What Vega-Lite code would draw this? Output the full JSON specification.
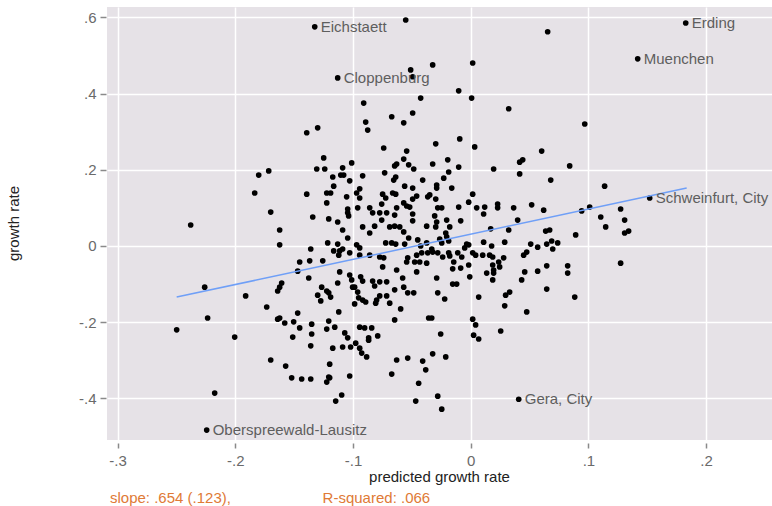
{
  "$schema": "https://vega.github.io/schema/vega-lite/v6.json",
  "width": 665,
  "height": 433,
  "autosize": {"type": "none"},
  "padding": {"left": 107, "top": 7, "right": 0, "bottom": 66},
  "background": "white",
  "config": {
    "view": {"fill": "#e6e2e7", "stroke": null},
    "font": "Liberation Sans",
    "axis": {
      "grid": true, "gridColor": "white", "gridWidth": 1.5,
      "domain": false, "tickColor": "#8a8a8a", "tickWidth": 1.5,
      "labelFont": "Liberation Sans", "labelFontSize": 15, "labelColor": "#6a6a6a",
      "titleFont": "Liberation Sans", "titleFontSize": 15, "titleFontWeight": "normal", "titleColor": "#222222"
    }
  },
  "title": {
    "text": "slope: .654 (.123),\u00a0\u00a0\u00a0\u00a0\u00a0\u00a0\u00a0\u00a0\u00a0\u00a0\u00a0\u00a0\u00a0\u00a0\u00a0\u00a0\u00a0\u00a0\u00a0\u00a0\u00a0\u00a0R-squared: .066",
    "orient": "bottom", "anchor": "start", "frame": "group", "dx": 3, "offset": 7,
    "font": "Liberation Sans", "fontSize": 15, "fontWeight": "normal", "color": "#e07a36"
  },
  "datasets": {
    "pts": [
      {"p":-0.1325,"g":0.575,"n":"Eichstaett"},{"p":-0.0552,"g":0.593,"n":""},{"p":0.0654,"g":0.562,"n":""},{"p":-0.051,"g":0.462,"n":""},{"p":-0.0323,"g":0.475,"n":""},{"p":0.0017,"g":0.48,"n":""},{"p":-0.0493,"g":0.444,"n":""},{"p":-0.113,"g":0.441,"n":"Cloppenburg"},{"p":-0.0102,"g":0.407,"n":""},{"p":0.0008,"g":0.388,"n":""},{"p":-0.0425,"g":0.388,"n":""},{"p":-0.0909,"g":0.375,"n":""},{"p":0.0323,"g":0.36,"n":""},{"p":-0.0493,"g":0.349,"n":""},{"p":-0.0671,"g":0.339,"n":""},
      {"p":-0.0569,"g":0.323,"n":""},{"p":-0.0892,"g":0.325,"n":""},{"p":-0.0875,"g":0.304,"n":""},{"p":-0.13,"g":0.31,"n":""},{"p":-0.1393,"g":0.297,"n":""},{"p":-0.0739,"g":0.257,"n":""},{"p":-0.0544,"g":0.249,"n":""},{"p":-0.0569,"g":0.228,"n":""},{"p":-0.1249,"g":0.231,"n":""},{"p":-0.1011,"g":0.218,"n":""},{"p":-0.0629,"g":0.215,"n":""},{"p":-0.0646,"g":0.21,"n":""},{"p":-0.0527,"g":0.213,"n":""},{"p":-0.0484,"g":0.202,"n":""},{"p":-0.1308,"g":0.202,"n":""},{"p":-0.124,"g":0.202,"n":""},{"p":-0.1088,"g":0.205,"n":""},{"p":-0.0731,"g":0.192,"n":""},{"p":-0.1104,"g":0.186,"n":""},{"p":-0.1079,"g":0.186,"n":""},{"p":-0.1172,"g":0.181,"n":""},{"p":-0.0918,"g":0.184,"n":""},{"p":-0.0637,"g":0.181,"n":""},{"p":-0.0654,"g":0.173,"n":""},{"p":-0.0408,"g":0.173,"n":""},{"p":-0.1028,"g":0.171,"n":""},{"p":-0.1164,"g":0.157,"n":""},{"p":-0.0561,"g":0.157,"n":""},{"p":-0.0493,"g":0.152,"n":""},{"p":-0.0943,"g":0.15,"n":""},{"p":-0.1393,"g":0.136,"n":""},{"p":-0.1223,"g":0.139,"n":""},{"p":-0.119,"g":0.139,"n":""},{"p":-0.0969,"g":0.139,"n":""},{"p":-0.0748,"g":0.136,"n":""},{"p":-0.0663,"g":0.139,"n":""},{"p":-0.0637,"g":0.136,"n":""},{"p":-0.1054,"g":0.129,"n":""},{"p":-0.0943,"g":0.126,"n":""},{"p":-0.0722,"g":0.126,"n":""},{"p":-0.0459,"g":0.131,"n":""},{"p":-0.0493,"g":0.123,"n":""},{"p":-0.0365,"g":0.129,"n":""},{"p":-0.1223,"g":0.113,"n":""},{"p":-0.0569,"g":0.113,"n":""},{"p":-0.0544,"g":0.105,"n":""},{"p":-0.1045,"g":0.097,"n":""},{"p":-0.096,"g":0.1,"n":""},{"p":-0.0858,"g":0.1,"n":""},{"p":-0.0756,"g":0.11,"n":""},{"p":-0.0629,"g":0.1,"n":""},{"p":-0.0518,"g":0.102,"n":""},
      {"p":-0.0093,"g":0.281,"n":""},{"p":-0.0297,"g":0.268,"n":""},{"p":0.0034,"g":0.26,"n":""},{"p":0.0603,"g":0.249,"n":""},{"p":-0.0195,"g":0.226,"n":""},{"p":0.0416,"g":0.22,"n":""},{"p":0.0442,"g":0.226,"n":""},{"p":-0.0323,"g":0.215,"n":""},{"p":-0.0102,"g":0.207,"n":""},{"p":0.0195,"g":0.202,"n":""},{"p":0.0841,"g":0.21,"n":""},{"p":0.0416,"g":0.189,"n":""},{"p":-0.0187,"g":0.194,"n":""},{"p":-0.0229,"g":0.178,"n":""},{"p":0.068,"g":0.173,"n":""},{"p":-0.0289,"g":0.16,"n":""},{"p":-0.0289,"g":0.152,"n":""},{"p":-0.0161,"g":0.152,"n":""},{"p":-0.0348,"g":0.134,"n":""},{"p":-0.0297,"g":0.123,"n":""},{"p":0.0017,"g":0.136,"n":""},{"p":-0.0017,"g":0.115,"n":""},{"p":-0.0102,"g":0.102,"n":""},{"p":-0.0246,"g":0.1,"n":""},{"p":-0.028,"g":0.1,"n":""},{"p":0.0051,"g":0.1,"n":""},{"p":0.0119,"g":0.102,"n":""},{"p":0.0229,"g":0.11,"n":""},{"p":0.0229,"g":0.1,"n":""},{"p":0.0365,"g":0.1,"n":""},{"p":0.0518,"g":0.108,"n":""},{"p":0.062,"g":0.094,"n":""},
      {"p":0.1827,"g":0.585,"n":"Erding"},{"p":0.1419,"g":0.491,"n":"Muenchen"},{"p":0.0969,"g":0.32,"n":""},{"p":0.1138,"g":0.157,"n":""},{"p":0.1521,"g":0.126,"n":"Schweinfurt, City"},{"p":0.0943,"g":0.092,"n":""},{"p":0.1011,"g":0.102,"n":""},{"p":0.1274,"g":0.097,"n":""},{"p":0.1105,"g":0.076,"n":""},{"p":0.1308,"g":0.068,"n":""},
      {"p":-0.0306,"g":0.079,"n":""},{"p":-0.0289,"g":0.063,"n":""},{"p":-0.0297,"g":0.05,"n":""},{"p":-0.0204,"g":0.068,"n":""},{"p":-0.0212,"g":0.034,"n":""},{"p":-0.0204,"g":0.024,"n":""},{"p":-0.0178,"g":0.05,"n":""},{"p":-0.0085,"g":0.066,"n":""},{"p":0.011,"g":0.084,"n":""},{"p":0.0399,"g":0.068,"n":""},{"p":0.017,"g":0.045,"n":""},{"p":0.0323,"g":0.042,"n":""},{"p":0.0637,"g":0.039,"n":""},{"p":0.0671,"g":0.042,"n":""},{"p":0.0892,"g":0.029,"n":""},{"p":0.1147,"g":0.05,"n":""},{"p":0.1308,"g":0.034,"n":""},{"p":0.1342,"g":0.039,"n":""},{"p":0.1274,"g":-0.045,"n":""},{"p":-0.0263,"g":0.018,"n":""},{"p":-0.0246,"g":0.008,"n":""},{"p":-0.0187,"g":0.013,"n":""},{"p":-0.0331,"g":-0.008,"n":""},{"p":-0.0323,"g":-0.016,"n":""},{"p":-0.028,"g":-0.018,"n":""},{"p":-0.0238,"g":-0.029,"n":""},{"p":-0.0187,"g":-0.018,"n":""},{"p":-0.0178,"g":-0.026,"n":""},{"p":-0.011,"g":-0.018,"n":""},{"p":-0.0076,"g":-0.029,"n":""},{"p":-0.0051,"g":-0.005,"n":""},{"p":-0.0034,"g":0.005,"n":""},{"p":-0.0017,"g":0.003,"n":""},{"p":0.0017,"g":-0.018,"n":""},{"p":0.0042,"g":-0.024,"n":""},{"p":0.0102,"g":-0.024,"n":""},{"p":0.011,"g":0.01,"n":""},{"p":0.0178,"g":0.0,"n":""},{"p":0.0161,"g":-0.024,"n":""},{"p":0.0187,"g":-0.029,"n":""},{"p":0.0289,"g":0.01,"n":""},{"p":0.028,"g":-0.031,"n":""},{"p":0.0238,"g":-0.042,"n":""},{"p":0.0187,"g":-0.05,"n":""},{"p":0.0246,"g":-0.055,"n":""},{"p":0.0195,"g":-0.063,"n":""},{"p":0.0136,"g":-0.071,"n":""},{"p":0.0195,"g":-0.071,"n":""},{"p":0.0187,"g":-0.089,"n":""},{"p":-0.0008,"g":-0.081,"n":""},{"p":-0.0017,"g":-0.05,"n":""},{"p":-0.0085,"g":-0.058,"n":""},{"p":-0.0144,"g":-0.042,"n":""},{"p":-0.0153,"g":-0.06,"n":""},{"p":-0.0289,"g":-0.084,"n":""},{"p":-0.0153,"g":-0.1,"n":""},{"p":-0.0119,"g":-0.1,"n":""},{"p":-0.028,"g":-0.123,"n":""},{"p":-0.0221,"g":-0.139,"n":""},{"p":0.0068,"g":-0.134,"n":""},{"p":0.0297,"g":-0.129,"n":""},{"p":0.0331,"g":-0.121,"n":""},{"p":0.0289,"g":-0.157,"n":""},{"p":0.045,"g":-0.024,"n":""},{"p":0.0476,"g":-0.016,"n":""},{"p":0.051,"g":0.005,"n":""},{"p":0.0569,"g":-0.003,"n":""},{"p":0.0646,"g":0.005,"n":""},{"p":0.0688,"g":0.013,"n":""},{"p":0.0739,"g":0.008,"n":""},{"p":0.0697,"g":-0.008,"n":""},{"p":0.0646,"g":-0.052,"n":""},{"p":0.0569,"g":-0.066,"n":""},{"p":0.0459,"g":-0.068,"n":""},{"p":0.0433,"g":-0.089,"n":""},{"p":0.0824,"g":-0.052,"n":""},{"p":0.0824,"g":-0.071,"n":""},{"p":0.0646,"g":-0.113,"n":""},{"p":0.0884,"g":-0.134,"n":""},{"p":0.0476,"g":-0.173,"n":""},{"p":-0.0331,"g":-0.189,"n":""},{"p":0.0017,"g":-0.192,"n":""},{"p":0.0042,"g":-0.207,"n":""},{"p":-0.0255,"g":-0.231,"n":""},{"p":0.0025,"g":-0.234,"n":""},{"p":0.0068,"g":-0.244,"n":""},{"p":0.0255,"g":-0.223,"n":""},
      {"p":-0.1342,"g":0.076,"n":""},{"p":-0.1206,"g":0.071,"n":""},{"p":-0.113,"g":0.063,"n":""},{"p":-0.1088,"g":0.042,"n":""},{"p":-0.1045,"g":0.087,"n":""},{"p":-0.1037,"g":0.079,"n":""},{"p":-0.1045,"g":0.021,"n":""},{"p":-0.1215,"g":0.008,"n":""},{"p":-0.113,"g":0.005,"n":""},{"p":-0.0969,"g":0.003,"n":""},{"p":-0.0943,"g":-0.005,"n":""},{"p":-0.1164,"g":-0.013,"n":""},{"p":-0.1113,"g":-0.013,"n":""},{"p":-0.1088,"g":-0.008,"n":""},{"p":-0.1121,"g":-0.024,"n":""},{"p":-0.1028,"g":-0.018,"n":""},{"p":-0.0943,"g":-0.024,"n":""},{"p":-0.1359,"g":-0.008,"n":""},{"p":-0.1453,"g":-0.042,"n":""},{"p":-0.1368,"g":-0.039,"n":""},{"p":-0.1257,"g":-0.039,"n":""},{"p":-0.147,"g":-0.066,"n":""},{"p":-0.1623,"g":0.003,"n":""},{"p":-0.1623,"g":0.042,"n":""},{"p":-0.0858,"g":-0.024,"n":""},{"p":-0.0833,"g":0.087,"n":""},{"p":-0.0773,"g":0.087,"n":""},{"p":-0.0918,"g":0.05,"n":""},{"p":-0.0816,"g":0.052,"n":""},{"p":-0.0756,"g":0.068,"n":""},{"p":-0.0858,"g":0.034,"n":""},{"p":-0.0714,"g":0.087,"n":""},{"p":-0.0646,"g":0.081,"n":""},{"p":-0.0688,"g":0.05,"n":""},{"p":-0.0646,"g":0.052,"n":""},{"p":-0.0603,"g":0.05,"n":""},{"p":-0.0569,"g":0.037,"n":""},{"p":-0.0527,"g":0.021,"n":""},{"p":-0.0493,"g":0.084,"n":""},{"p":-0.0493,"g":0.066,"n":""},{"p":-0.0374,"g":0.052,"n":""},{"p":-0.0722,"g":0.008,"n":""},{"p":-0.0671,"g":0.008,"n":""},{"p":-0.0637,"g":0.005,"n":""},{"p":-0.0561,"g":0.005,"n":""},{"p":-0.045,"g":0.016,"n":""},{"p":-0.0425,"g":0.0,"n":""},{"p":-0.0374,"g":0.008,"n":""},{"p":-0.0773,"g":-0.029,"n":""},{"p":-0.0739,"g":-0.031,"n":""},{"p":-0.0535,"g":-0.031,"n":""},{"p":-0.0544,"g":-0.042,"n":""},{"p":-0.0476,"g":-0.042,"n":""},{"p":-0.0433,"g":-0.042,"n":""},{"p":-0.0459,"g":-0.024,"n":""},{"p":-0.0416,"g":-0.018,"n":""},{"p":-0.0365,"g":-0.018,"n":""},{"p":-0.0374,"g":-0.045,"n":""},{"p":-0.0748,"g":-0.055,"n":""},{"p":-0.0629,"g":-0.063,"n":""},{"p":-0.1113,"g":-0.068,"n":""},{"p":-0.1028,"g":-0.076,"n":""},{"p":-0.1011,"g":-0.089,"n":""},{"p":-0.1003,"g":-0.108,"n":""},{"p":-0.0986,"g":-0.108,"n":""},{"p":-0.0935,"g":-0.081,"n":""},{"p":-0.0918,"g":-0.092,"n":""},{"p":-0.1376,"g":-0.084,"n":""},{"p":-0.113,"g":-0.097,"n":""},{"p":-0.0833,"g":-0.092,"n":""},{"p":-0.0773,"g":-0.094,"n":""},{"p":-0.0714,"g":-0.094,"n":""},{"p":-0.0816,"g":-0.105,"n":""},{"p":-0.0578,"g":-0.084,"n":""},{"p":-0.0459,"g":-0.068,"n":""},{"p":-0.0646,"g":-0.115,"n":""},{"p":-0.0569,"g":-0.108,"n":""},{"p":-0.0535,"g":-0.123,"n":""},{"p":-0.0484,"g":-0.123,"n":""},{"p":-0.1266,"g":-0.108,"n":""},{"p":-0.1223,"g":-0.118,"n":""},{"p":-0.1206,"g":-0.123,"n":""},{"p":-0.119,"g":-0.134,"n":""},{"p":-0.13,"g":-0.129,"n":""},{"p":-0.1274,"g":-0.144,"n":""},{"p":-0.096,"g":-0.121,"n":""},{"p":-0.0952,"g":-0.136,"n":""},{"p":-0.0918,"g":-0.142,"n":""},{"p":-0.0892,"g":-0.147,"n":""},{"p":-0.0986,"g":-0.152,"n":""},{"p":-0.0799,"g":-0.142,"n":""},{"p":-0.0773,"g":-0.131,"n":""},{"p":-0.0714,"g":-0.131,"n":""},{"p":-0.0807,"g":-0.15,"n":""},{"p":-0.0688,"g":-0.15,"n":""},{"p":-0.0595,"g":-0.165,"n":""},{"p":-0.1121,"g":-0.173,"n":""},{"p":-0.147,"g":-0.176,"n":""},{"p":-0.1623,"g":-0.189,"n":""},{"p":-0.158,"g":-0.202,"n":""},{"p":-0.1504,"g":-0.199,"n":""},{"p":-0.1453,"g":-0.215,"n":""},{"p":-0.1351,"g":-0.205,"n":""},{"p":-0.1206,"g":-0.197,"n":""},{"p":-0.1223,"g":-0.218,"n":""},{"p":-0.1155,"g":-0.213,"n":""},{"p":-0.0646,"g":-0.194,"n":""},{"p":-0.0357,"g":-0.189,"n":""},{"p":-0.1512,"g":-0.239,"n":""},{"p":-0.1351,"g":-0.231,"n":""},{"p":-0.107,"g":-0.228,"n":""},{"p":-0.1045,"g":-0.241,"n":""},{"p":-0.0943,"g":-0.213,"n":""},{"p":-0.0901,"g":-0.215,"n":""},{"p":-0.0841,"g":-0.215,"n":""},{"p":-0.0867,"g":-0.241,"n":""},{"p":-0.079,"g":-0.236,"n":""},{"p":-0.1359,"g":-0.262,"n":""},{"p":-0.1172,"g":-0.268,"n":""},{"p":-0.1088,"g":-0.265,"n":""},{"p":-0.102,"g":-0.265,"n":""},{"p":-0.0943,"g":-0.268,"n":""},
      {"p":-0.0977,"g":-0.255,"n":""},{"p":-0.0867,"g":-0.247,"n":""},{"p":-0.0926,"g":-0.281,"n":""},{"p":-0.0884,"g":-0.291,"n":""},{"p":-0.1198,"g":-0.31,"n":""},{"p":-0.1198,"g":-0.346,"n":""},{"p":-0.1028,"g":-0.341,"n":""},{"p":-0.1096,"g":-0.391,"n":""},{"p":-0.1147,"g":-0.407,"n":""},{"p":-0.0629,"g":-0.299,"n":""},{"p":-0.0535,"g":-0.294,"n":""},{"p":-0.0408,"g":-0.302,"n":""},{"p":-0.0323,"g":-0.283,"n":""},{"p":-0.0212,"g":-0.291,"n":""},{"p":-0.0382,"g":-0.325,"n":""},{"p":-0.0671,"g":-0.336,"n":""},{"p":-0.0442,"g":-0.36,"n":""},{"p":-0.0467,"g":-0.407,"n":""},{"p":-0.028,"g":-0.394,"n":""},{"p":-0.0246,"g":-0.428,"n":""},{"p":0.0408,"g":-0.402,"n":"Gera, City"},
      {"p":-0.1699,"g":0.089,"n":""},{"p":-0.2379,"g":0.055,"n":""},{"p":-0.226,"g":-0.108,"n":""},{"p":-0.1606,"g":-0.097,"n":""},{"p":-0.1623,"g":-0.108,"n":""},{"p":-0.164,"g":-0.118,"n":""},{"p":-0.1912,"g":-0.131,"n":""},{"p":-0.1733,"g":-0.16,"n":""},{"p":-0.2235,"g":-0.189,"n":""},{"p":-0.2498,"g":-0.22,"n":""},{"p":-0.2005,"g":-0.239,"n":""},{"p":-0.164,"g":-0.192,"n":""},{"p":-0.1699,"g":-0.299,"n":""},{"p":-0.1572,"g":-0.315,"n":""},{"p":-0.1521,"g":-0.346,"n":""},{"p":-0.1436,"g":-0.349,"n":""},{"p":-0.1359,"g":-0.349,"n":""},{"p":-0.1206,"g":-0.344,"n":""},{"p":-0.1223,"g":-0.357,"n":""},{"p":-0.2175,"g":-0.386,"n":""},{"p":-0.2243,"g":-0.483,"n":"Oberspreewald-Lausitz"},
      {"p":-0.1716,"g":0.197,"n":""},{"p":-0.1801,"g":0.186,"n":""},{"p":-0.1835,"g":0.139,"n":""}
    ],
    "fit": [{"p": -0.2498, "g": -0.134}, {"p": 0.1835, "g": 0.152}]
  },
  "encoding": {
    "x": {
      "field": "p", "type": "quantitative",
      "scale": {"domain": [-0.309, 0.256], "nice": false, "zero": false},
      "axis": {
        "values": [-0.3, -0.2, -0.1, 0, 0.1, 0.2],
        "labelExpr": "datum.value == 0 ? '0' : (datum.value < 0 ? '-' : '') + replace(format(abs(datum.value), '.1f'), '0.', '.')",
        "offset": 3, "tickSize": 5, "labelPadding": 5,
        "title": "predicted growth rate", "titleX": 332, "titleY": 33, "titleBaseline": "middle", "titleAlign": "center"
      }
    },
    "y": {
      "field": "g", "type": "quantitative",
      "scale": {"domain": [-0.509, 0.627], "nice": false, "zero": false},
      "axis": {
        "values": [-0.4, -0.2, 0, 0.2, 0.4, 0.6],
        "labelExpr": "datum.value == 0 ? '0' : (datum.value < 0 ? '-' : '') + replace(format(abs(datum.value), '.1f'), '0.', '.')",
        "offset": 1, "tickSize": 6, "labelPadding": 4,
        "title": "growth rate", "titleX": -93, "titleY": 216, "titleAngle": -90, "titleBaseline": "middle", "titleAlign": "center"
      }
    }
  },
  "layer": [
    {
      "data": {"name": "pts"},
      "mark": {"type": "circle", "size": 32, "color": "black", "opacity": 1}
    },
    {
      "data": {"name": "fit"},
      "mark": {"type": "line", "color": "#6f9ff7", "strokeWidth": 1.5}
    },
    {
      "data": {"name": "pts"},
      "transform": [{"filter": "datum.n != ''"}],
      "mark": {"type": "text", "align": "left", "baseline": "middle", "dx": 6, "fontSize": 15, "font": "Liberation Sans", "color": "#5e5e5e"},
      "encoding": {"text": {"field": "n"}}
    }
  ]
}
